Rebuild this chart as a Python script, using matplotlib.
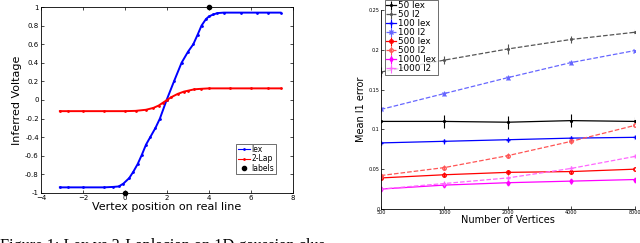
import numpy as np
import matplotlib
matplotlib.use('Agg')
import matplotlib.pyplot as plt

# ---- left panel: inferred voltage along the real line
lex_x = [-3.1, -2.7, -2.0, -1.0, -0.55, -0.3, -0.08, 0.2, 0.4, 0.6, 0.8, 1.0, 1.2, 1.45,
         1.66, 1.98, 2.33, 2.69, 3.0, 3.25, 3.45, 3.64, 3.85, 4.0, 4.2, 4.4, 4.7, 5.5, 6.3, 6.8, 7.4]
lex_y = [-0.94, -0.94, -0.94, -0.94, -0.935, -0.93, -0.90, -0.84, -0.77, -0.69, -0.59, -0.48,
         -0.40, -0.30, -0.20, 0.0, 0.20, 0.40, 0.52, 0.60, 0.70, 0.80, 0.87, 0.90, 0.92, 0.935,
         0.94, 0.94, 0.94, 0.94, 0.94]
lap_x = [-3.1, -2.7, -2.0, -1.0, 0.0, 0.5, 1.0, 1.35, 1.6, 1.8, 2.0, 2.2, 2.5, 2.8, 3.0,
         3.3, 3.6, 4.0, 5.0, 6.0, 6.8, 7.4]
lap_y = [-0.12, -0.12, -0.12, -0.12, -0.12, -0.117, -0.105, -0.085, -0.06, -0.03, 0.0, 0.03,
         0.065, 0.09, 0.10, 0.115, 0.12, 0.125, 0.125, 0.125, 0.125, 0.125]
label_x = [0, 4]
label_y = [-1, 1]

# ---- right panel: mean l1 error vs number of vertices
n_vertices = [500, 1000, 2000, 4000, 8000]
err_50_lex = [0.110, 0.110, 0.109, 0.111, 0.110]
err_50_l2 = [0.172, 0.187, 0.201, 0.213, 0.222]
err_100_lex = [0.083, 0.085, 0.087, 0.089, 0.090]
err_100_l2 = [0.125, 0.145, 0.165, 0.184, 0.199]
err_500_lex = [0.039, 0.043, 0.046, 0.047, 0.050]
err_500_l2 = [0.042, 0.052, 0.067, 0.085, 0.105]
err_1000_lex = [0.025, 0.030, 0.033, 0.035, 0.037]
err_1000_l2 = [0.025, 0.032, 0.039, 0.051, 0.066]
std_50_lex = [0.002, 0.008, 0.008, 0.008, 0.005]
std_50_l2 = [0.006, 0.005, 0.006, 0.004, 0.004]
std_small = [0.003, 0.003, 0.003, 0.003, 0.003]

fig = plt.figure(figsize=(6.4, 2.43), dpi=100)
fig.patch.set_facecolor('white')

# left axes
ax1 = fig.add_axes([0.064, 0.206, 0.394, 0.765])
ax1.plot(lex_x, lex_y, '.-', color='blue', lw=1.4, ms=2, label='lex')
ax1.plot(lap_x, lap_y, '.-', color='red', lw=1.4, ms=2, label='2-Lap')
ax1.plot(label_x, label_y, 'o', color='black', ms=3, label='labels', clip_on=False)
ax1.set_xlim(-4, 8)
ax1.set_ylim(-1, 1)
ax1.set_xticks(np.arange(-4, 9, 2))
ax1.set_yticks(np.round(np.arange(-1, 1.01, 0.2), 1))
ax1.set_yticklabels(['-1', '-0.8', '-0.6', '-0.4', '-0.2', '0', '0.2', '0.4', '0.6', '0.8', '1'])
ax1.tick_params(direction='in', top=True, right=True, labelsize=5, length=2.5, width=0.5, pad=1.5)
for s in ax1.spines.values():
    s.set_linewidth(0.6)
ax1.set_xlabel('Vertex position on real line', fontsize=8, labelpad=1)
ax1.set_ylabel('Inferred Voltage', fontsize=8, labelpad=2)
leg1 = ax1.legend(loc='lower left', bbox_to_anchor=(0.775, 0.1), fontsize=5.5, frameon=True,
                  fancybox=False, edgecolor='black', borderpad=0.2, handlelength=1.6,
                  handletextpad=0.2, labelspacing=0.05, borderaxespad=0)
leg1.get_frame().set_linewidth(0.5)
for ln in leg1.get_lines():
    ln.set_linewidth(0.8)

# right axes
ax2 = fig.add_axes([0.595, 0.14, 0.397, 0.819])
series = [
    ('50 lex', err_50_lex, std_50_lex, 'black', '-', '.'),
    ('50 l2', err_50_l2, std_50_l2, '#555555', '--', '.'),
    ('100 lex', err_100_lex, std_small, 'blue', '-', '+'),
    ('100 l2', err_100_l2, std_small, '#6666ff', '--', 'x'),
    ('500 lex', err_500_lex, std_small, 'red', '-', 'o'),
    ('500 l2', err_500_l2, std_small, '#ff5555', '--', 'o'),
    ('1000 lex', err_1000_lex, std_small, 'magenta', '-', 'd'),
    ('1000 l2', err_1000_l2, std_small, '#ff66ff', '--', '+'),
]
for name, vals, err, col, ls, mk in series:
    ax2.errorbar(n_vertices, vals, yerr=err, color=col, ls=ls, marker=mk, ms=2.5,
                 lw=0.9, elinewidth=0.8, capsize=0, mfc='none' if mk == 'o' else col,
                 label=name)
ax2.set_xscale('log')
ax2.set_xticks(n_vertices)
ax2.set_xticklabels([str(v) for v in n_vertices])
ax2.minorticks_off()
ax2.set_xlim(500, 8000)
ax2.set_ylim(0, 0.25)
ax2.set_yticks([0, 0.05, 0.1, 0.15, 0.2, 0.25])
ax2.set_yticklabels(['0', '0.05', '0.1', '0.15', '0.2', '0.25'])
ax2.spines['top'].set_visible(False)
ax2.spines['right'].set_visible(False)
for s in ax2.spines.values():
    s.set_linewidth(0.6)
ax2.tick_params(direction='in', labelsize=3.5, length=2, width=0.5, pad=1)
ax2.set_xlabel('Number of Vertices', fontsize=7, labelpad=0)
ax2.set_ylabel('Mean l1 error', fontsize=7, labelpad=2)
leg2 = fig.legend(*ax2.get_legend_handles_labels(), loc='upper left',
                  bbox_to_anchor=(0.601, 1.0), fontsize=6.3, frameon=True, fancybox=False,
                  edgecolor='black', borderpad=0.15, handlelength=1.2, handletextpad=0.2,
                  labelspacing=0.0, borderaxespad=0)
leg2.get_frame().set_linewidth(0.5)

# cut-off caption at the bottom
fig.text(0.0, -7 / 243, 'Figure 1: Lex vs 2-Laplacian on 1D gaussian clus',
         fontsize=11.7, family='Liberation Serif', va='baseline', ha='left')

fig.savefig('out.png', dpi=100, facecolor='white')
